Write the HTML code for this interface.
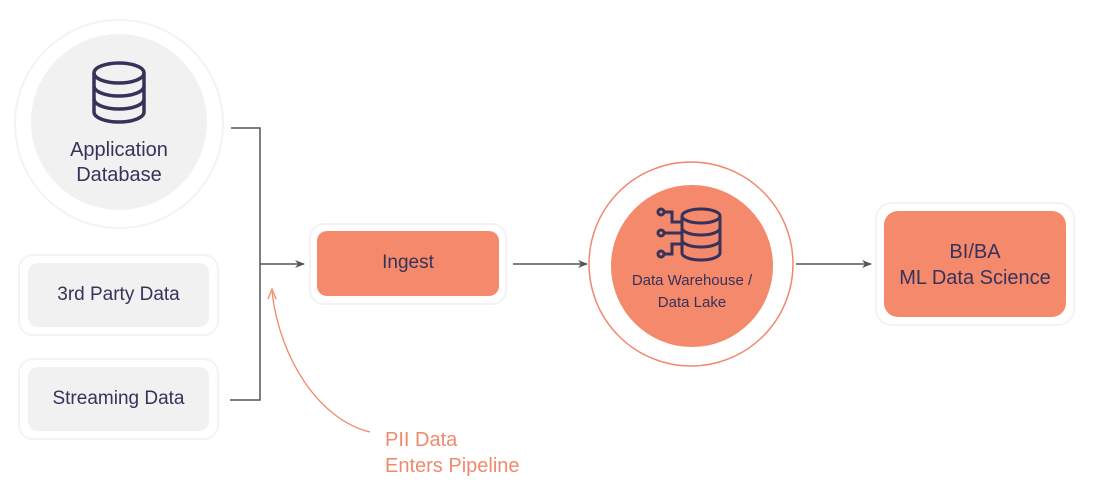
<!DOCTYPE html>
<html><head><meta charset="utf-8"><style>
html,body{margin:0;padding:0;background:#fff;}
body{width:1098px;height:504px;position:relative;overflow:hidden;font-family:"Liberation Sans",sans-serif;}
.t{position:absolute;color:#37325a;text-align:center;}
</style></head><body>
<svg width="1098" height="504" style="position:absolute;left:0;top:0">
<defs><marker id="a" markerWidth="10" markerHeight="8" refX="9" refY="4" orient="auto" markerUnits="userSpaceOnUse"><path d="M0,0 L10,4 L0,8 L3,4 Z" fill="#555"/></marker>
<marker id="b" markerWidth="10" markerHeight="10" refX="5" refY="1" orient="auto" markerUnits="userSpaceOnUse"></marker></defs>
<!-- App DB -->
<circle cx="119" cy="124" r="104" fill="#fff" stroke="#f3f3f4" stroke-width="2"/>
<circle cx="119" cy="122" r="88" fill="#f1f1f2"/>
<g fill="none" stroke="#37325a" stroke-width="3.5">
<ellipse cx="119" cy="73" rx="25" ry="10"/>
<path d="M94,73 V112 A25,10 0 0 0 144,112 V73"/>
<path d="M94,86 A25,10 0 0 0 144,86"/>
<path d="M94,99 A25,10 0 0 0 144,99"/>
</g>
<!-- small boxes -->
<rect x="19" y="255" width="199" height="80" rx="14" fill="#fff" stroke="#f3f3f4" stroke-width="2"/>
<rect x="28" y="263" width="181" height="64" rx="10" fill="#f1f1f2"/>
<rect x="19" y="359" width="199" height="80" rx="14" fill="#fff" stroke="#f3f3f4" stroke-width="2"/>
<rect x="28" y="367" width="181" height="64" rx="10" fill="#f1f1f2"/>
<!-- connectors -->
<g fill="none" stroke="#555" stroke-width="1.5">
<path d="M231,128 H260 V400 H230"/>
<path d="M260,264 H304" marker-end="url(#a)"/>
<path d="M513,264 H587" marker-end="url(#a)"/>
<path d="M796,264 H871" marker-end="url(#a)"/>
</g>
<!-- ingest -->
<rect x="310" y="224" width="196" height="80" rx="14" fill="#fff" stroke="#f3f3f4" stroke-width="2"/>
<rect x="317" y="231" width="182" height="65" rx="10" fill="#f4896b"/>
<!-- warehouse -->
<circle cx="691" cy="264" r="102" fill="#fff" stroke="#f08a6c" stroke-width="1.5"/>
<circle cx="692" cy="266" r="81" fill="#f4896b"/>
<g fill="none" stroke="#37325a" stroke-width="3">
<ellipse cx="701" cy="216" rx="19" ry="7"/>
<path d="M682,216 V253 A19,7 0 0 0 720,253 V216"/>
<path d="M682,228 A19,7 0 0 0 720,228"/>
<path d="M682,240 A19,7 0 0 0 720,240"/>
<circle cx="661" cy="212" r="3"/><circle cx="661" cy="233" r="3"/><circle cx="661" cy="254" r="3"/>
<path d="M664,212 H672 V222 H682"/><path d="M664,233 H682"/><path d="M664,254 H672 V244 H682"/>
</g>
<!-- BI -->
<rect x="876" y="203" width="198" height="122" rx="16" fill="#fff" stroke="#f3f3f4" stroke-width="2"/>
<rect x="884" y="211" width="182" height="106" rx="14" fill="#f4896b"/>
<!-- PII curve -->
<path d="M370,432 C320,420 280,360 272,292" fill="none" stroke="#f08a6c" stroke-width="1.3"/>
<path d="M268,299 L272,289 L276,299" fill="none" stroke="#f08a6c" stroke-width="1.3"/>
</svg>
<div class="t" style="left:31px;top:138px;width:176px;font-size:20px;line-height:25px">Application<br>Database</div>
<div class="t" style="left:28px;top:283px;width:181px;font-size:19px;line-height:24px">3rd Party Data</div>
<div class="t" style="left:28px;top:387px;width:181px;font-size:19px;line-height:24px">Streaming Data</div>
<div class="t" style="left:317px;top:251px;width:182px;font-size:19px;line-height:24px">Ingest</div>
<div class="t" style="left:611px;top:270px;width:162px;font-size:15px;line-height:22px">Data Warehouse /<br>Data Lake</div>
<div class="t" style="left:884px;top:239px;width:182px;font-size:20px;line-height:26px">BI/BA<br>ML Data Science</div>
<div class="t" style="left:385px;top:427px;text-align:left;color:#f08a6c;font-size:20px;line-height:26px">PII Data<br>Enters Pipeline</div>
</body></html>
